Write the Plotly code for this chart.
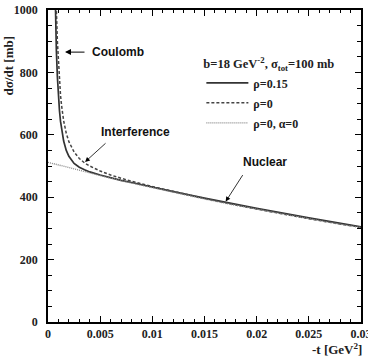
import plotly.graph_objects as go

# -t [GeV^2] sample points for the curves with Coulomb part
t_cni = [0.0006, 0.0007, 0.0008, 0.0009, 0.001, 0.0011, 0.0012, 0.0013, 0.0015,
         0.00175, 0.002, 0.0025, 0.003, 0.0035, 0.004, 0.005, 0.006, 0.007,
         0.008, 0.01, 0.012, 0.015, 0.02, 0.025, 0.03]
# rho = 0.15 (solid)
sig_rho015 = [1200, 1000, 872, 785, 722, 677, 643, 617, 580,
              550, 531, 508, 496, 488, 481, 471, 462, 454,
              447, 432, 418, 397, 364, 334, 305]
# rho = 0 (dashed)
sig_rho0 = [1381, 1152, 1002, 899, 825, 770, 727, 694, 645,
            605, 578, 545, 524, 510, 500, 484, 471, 461,
            451, 434, 418, 396, 362, 331, 303]
# rho = 0, alpha = 0 (nuclear only, dotted)
t_nuc = [0, 0.0025, 0.005, 0.0075, 0.01, 0.0125, 0.015, 0.0175, 0.02, 0.0225,
         0.025, 0.0275, 0.03]
sig_nuc = [512, 490, 469, 449, 430, 411, 394, 377, 361, 345, 331, 316, 303]

x_ticks = [0, 0.005, 0.01, 0.015, 0.02, 0.025, 0.03]
x_tick_labels = ["0", "0.005", "0.01", "0.015", "0.02", "0.025", "0.03"]
y_ticks = [0, 200, 400, 600, 800, 1000]
y_tick_labels = ["0", "200", "400", "600", "800", "1000"]

legend_title = "b=18 GeV<sup>-2</sup>, σ<sub>tot</sub>=100 mb"
names = ["ρ=0.15", "ρ=0", "ρ=0, α=0"]

serif = "Liberation Serif"
sans = "Liberation Sans"
XR = [0, 0.03]
YR = [0, 1000]

fig = go.Figure()
fig.add_trace(go.Scatter(x=t_cni, y=sig_rho015, mode="lines", name=names[0], legendgroup="a",
                         line=dict(color="#333333", width=1.7)))
fig.add_trace(go.Scatter(x=t_cni, y=sig_rho0, mode="lines", name=names[1], legendgroup="b",
                         line=dict(color="#444444", width=1.5, dash="3px,2px")))
fig.add_trace(go.Scatter(x=t_nuc, y=sig_nuc, mode="lines", name=names[2], legendgroup="c",
                         line=dict(color="#888888", width=1.3, dash="1px,1px")))
# invisible trace anchoring the mirrored (top/right) tick axes
fig.add_trace(go.Scatter(x=[XR[0]], y=[YR[0]], xaxis="x2", yaxis="y2", mode="markers",
                         marker=dict(opacity=0), showlegend=False, hoverinfo="skip"))

tfont = dict(family=serif, size=12, color="#222222", weight="bold")
axis_common = dict(
    showline=True, linecolor="black", linewidth=1.8, mirror=True,
    ticks="inside", tickcolor="black", tickwidth=1.3, ticklen=6,
    showgrid=False, zeroline=False, tickfont=tfont, ticklabeloverflow="allow",
    automargin=False,
)

fig.update_layout(
    xaxis=dict(range=XR, tickmode="array", tickvals=x_ticks, ticktext=x_tick_labels,
               minor=dict(dtick=0.001, tick0=0, ticks="inside", ticklen=3, tickcolor="black", tickwidth=1.2),
               **axis_common),
    yaxis=dict(range=YR, tickmode="array", tickvals=y_ticks, ticktext=y_tick_labels, ticklabelstandoff=6,
               minor=dict(dtick=50, tick0=0, ticks="inside", ticklen=4, tickcolor="black", tickwidth=1.2),
               **axis_common),
    xaxis2=dict(range=XR, overlaying="x", side="top", anchor="y2", showticklabels=False,
                tickmode="array", tickvals=x_ticks, ticks="inside", ticklen=6, tickwidth=1.3,
                tickcolor="black", showgrid=False, zeroline=False, showline=False, automargin=False,
                minor=dict(dtick=0.001, tick0=0, ticks="inside", ticklen=3, tickcolor="black", tickwidth=1.2)),
    yaxis2=dict(range=YR, overlaying="y", side="right", anchor="x2", showticklabels=False,
                tickmode="array", tickvals=y_ticks, ticks="inside", ticklen=6, tickwidth=1.3,
                tickcolor="black", showgrid=False, zeroline=False, showline=False, automargin=False,
                minor=dict(dtick=50, tick0=0, ticks="inside", ticklen=4, tickcolor="black", tickwidth=1.2)),
)

ann_font = dict(family=sans, size=12, color="#111111", weight="bold")
fig.add_annotation(x=0.00163, y=865, xref="x", yref="y", ax=21, ay=0,
                   text="", showarrow=True, arrowhead=2, arrowsize=1.2, arrowwidth=1, arrowcolor="black")
fig.add_annotation(x=0.0040, y=865, xref="x", yref="y", text="Coulomb", showarrow=False,
                   xanchor="left", yanchor="middle", font=ann_font)
fig.add_annotation(x=0.00355, y=513, xref="x", yref="y", ax=22, ay=-20,
                   text="", showarrow=True, arrowhead=2, arrowsize=1.2, arrowwidth=0.8, arrowcolor="black")
fig.add_annotation(x=0.0049, y=609, xref="x", yref="y", text="Interference", showarrow=False,
                   xanchor="left", yanchor="middle", font=ann_font)
fig.add_annotation(x=0.01703, y=386, xref="x", yref="y", ax=18, ay=-28,
                   text="", showarrow=True, arrowhead=2, arrowsize=1.2, arrowwidth=0.8, arrowcolor="black")
fig.add_annotation(x=0.0185, y=513, xref="x", yref="y", text="Nuclear", showarrow=False,
                   xanchor="left", yanchor="middle", font=ann_font)

fig.add_annotation(x=-0.127, y=0.82, xref="paper", yref="paper", text="dσ/dt [mb]", showarrow=False,
                   textangle=-90, xanchor="center", yanchor="middle",
                   font=dict(family=serif, size=13, color="#222222", weight="bold"))
fig.add_annotation(x=1.01, y=-0.085, xref="paper", yref="paper", text="-t [GeV<sup>2</sup>]",
                   showarrow=False, xanchor="right", yanchor="middle",
                   font=dict(family=serif, size=13, color="#222222", weight="bold"))

fig.update_layout(
    width=368, height=359,
    margin=dict(l=48, r=7, t=10, b=37, autoexpand=False),
    paper_bgcolor="white", plot_bgcolor="white",
    showlegend=True,
    legend=dict(x=0.49, y=0.865, xanchor="left", yanchor="top",
                bgcolor="rgba(0,0,0,0)",
                title=dict(text=legend_title, font=dict(family=serif, size=12.5, color="#222222", weight="bold")),
                font=dict(family=serif, size=12, color="#222222", weight="bold"),
                itemwidth=42, tracegroupgap=1),
)

fig.write_html("out.html")
